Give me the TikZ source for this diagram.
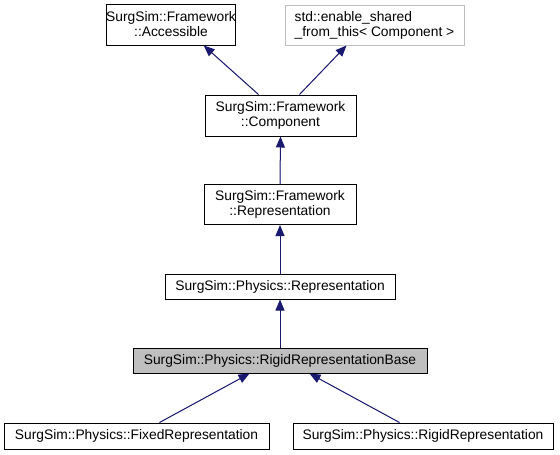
\documentclass[tikz,border=0pt]{standalone}
\usepackage{fontspec}
\setmainfont{Liberation Sans}
\usetikzlibrary{arrows.meta,calc}
\definecolor{edgeblue}{RGB}{25,25,112}
\definecolor{basegray}{RGB}{191,191,191}
\definecolor{extgray}{RGB}{191,191,191}
\begin{document}
\begin{tikzpicture}[x=1pt,y=-1pt,
  cls/.style={draw=black,line width=1pt,fill=white,inner sep=0pt,
    font=\fontsize{13.8}{15}\selectfont,align=center},
  extcls/.style={cls,draw=extgray},
  cur/.style={cls,fill=basegray},
  inh/.style={draw=edgeblue,line width=1pt,-{Triangle[length=11pt,width=9pt]},fill=edgeblue}]
\useasboundingbox (0,0) rectangle (560,455);
\node[cls,minimum width=124pt,minimum height=41pt] (acc) at (171,24.5) {SurgSim::Framework\\::Accessible};
\node[extcls,minimum width=179pt,minimum height=40pt,align=left] (ena) at (374.5,25) {std::enable\_shared\\\_from\_this< Component >};
\node[cls,minimum width=151pt,minimum height=41pt] (comp) at (280.5,115.5) {SurgSim::Framework\\::Component};
\node[cls,minimum width=152pt,minimum height=40pt] (frep) at (280,204.5) {SurgSim::Framework\\::Representation};
\node[cls,minimum width=230pt,minimum height=25pt] (prep) at (280,286.5) {SurgSim::Physics::Representation};
\node[cur,minimum width=294pt,minimum height=25pt] (base) at (280,360.5) {SurgSim::Physics::RigidRepresentationBase};
\node[cls,minimum width=265pt,minimum height=26pt] (fixed) at (136.5,436) {SurgSim::Physics::FixedRepresentation};
\node[cls,minimum width=260pt,minimum height=26pt] (rigid) at (423,436) {SurgSim::Physics::RigidRepresentation};
\draw[inh] ($(comp.north west)+(54,0)$) -- ($(acc.south west)+(98,0)$);
\draw[inh] ($(comp.north west)+(95,0)$) -- ($(ena.south west)+(62,0)$);
\draw[inh] (frep.north) -- (comp.south);
\draw[inh] (prep.north) -- (frep.south);
\draw[inh] (base.north) -- (prep.south);
\draw[inh] ($(fixed.north west)+(156,0)$) -- ($(base.south west)+(117,0)$);
\draw[inh] ($(rigid.north west)+(107,0)$) -- ($(base.south west)+(177,0)$);
\end{tikzpicture}
\end{document}
